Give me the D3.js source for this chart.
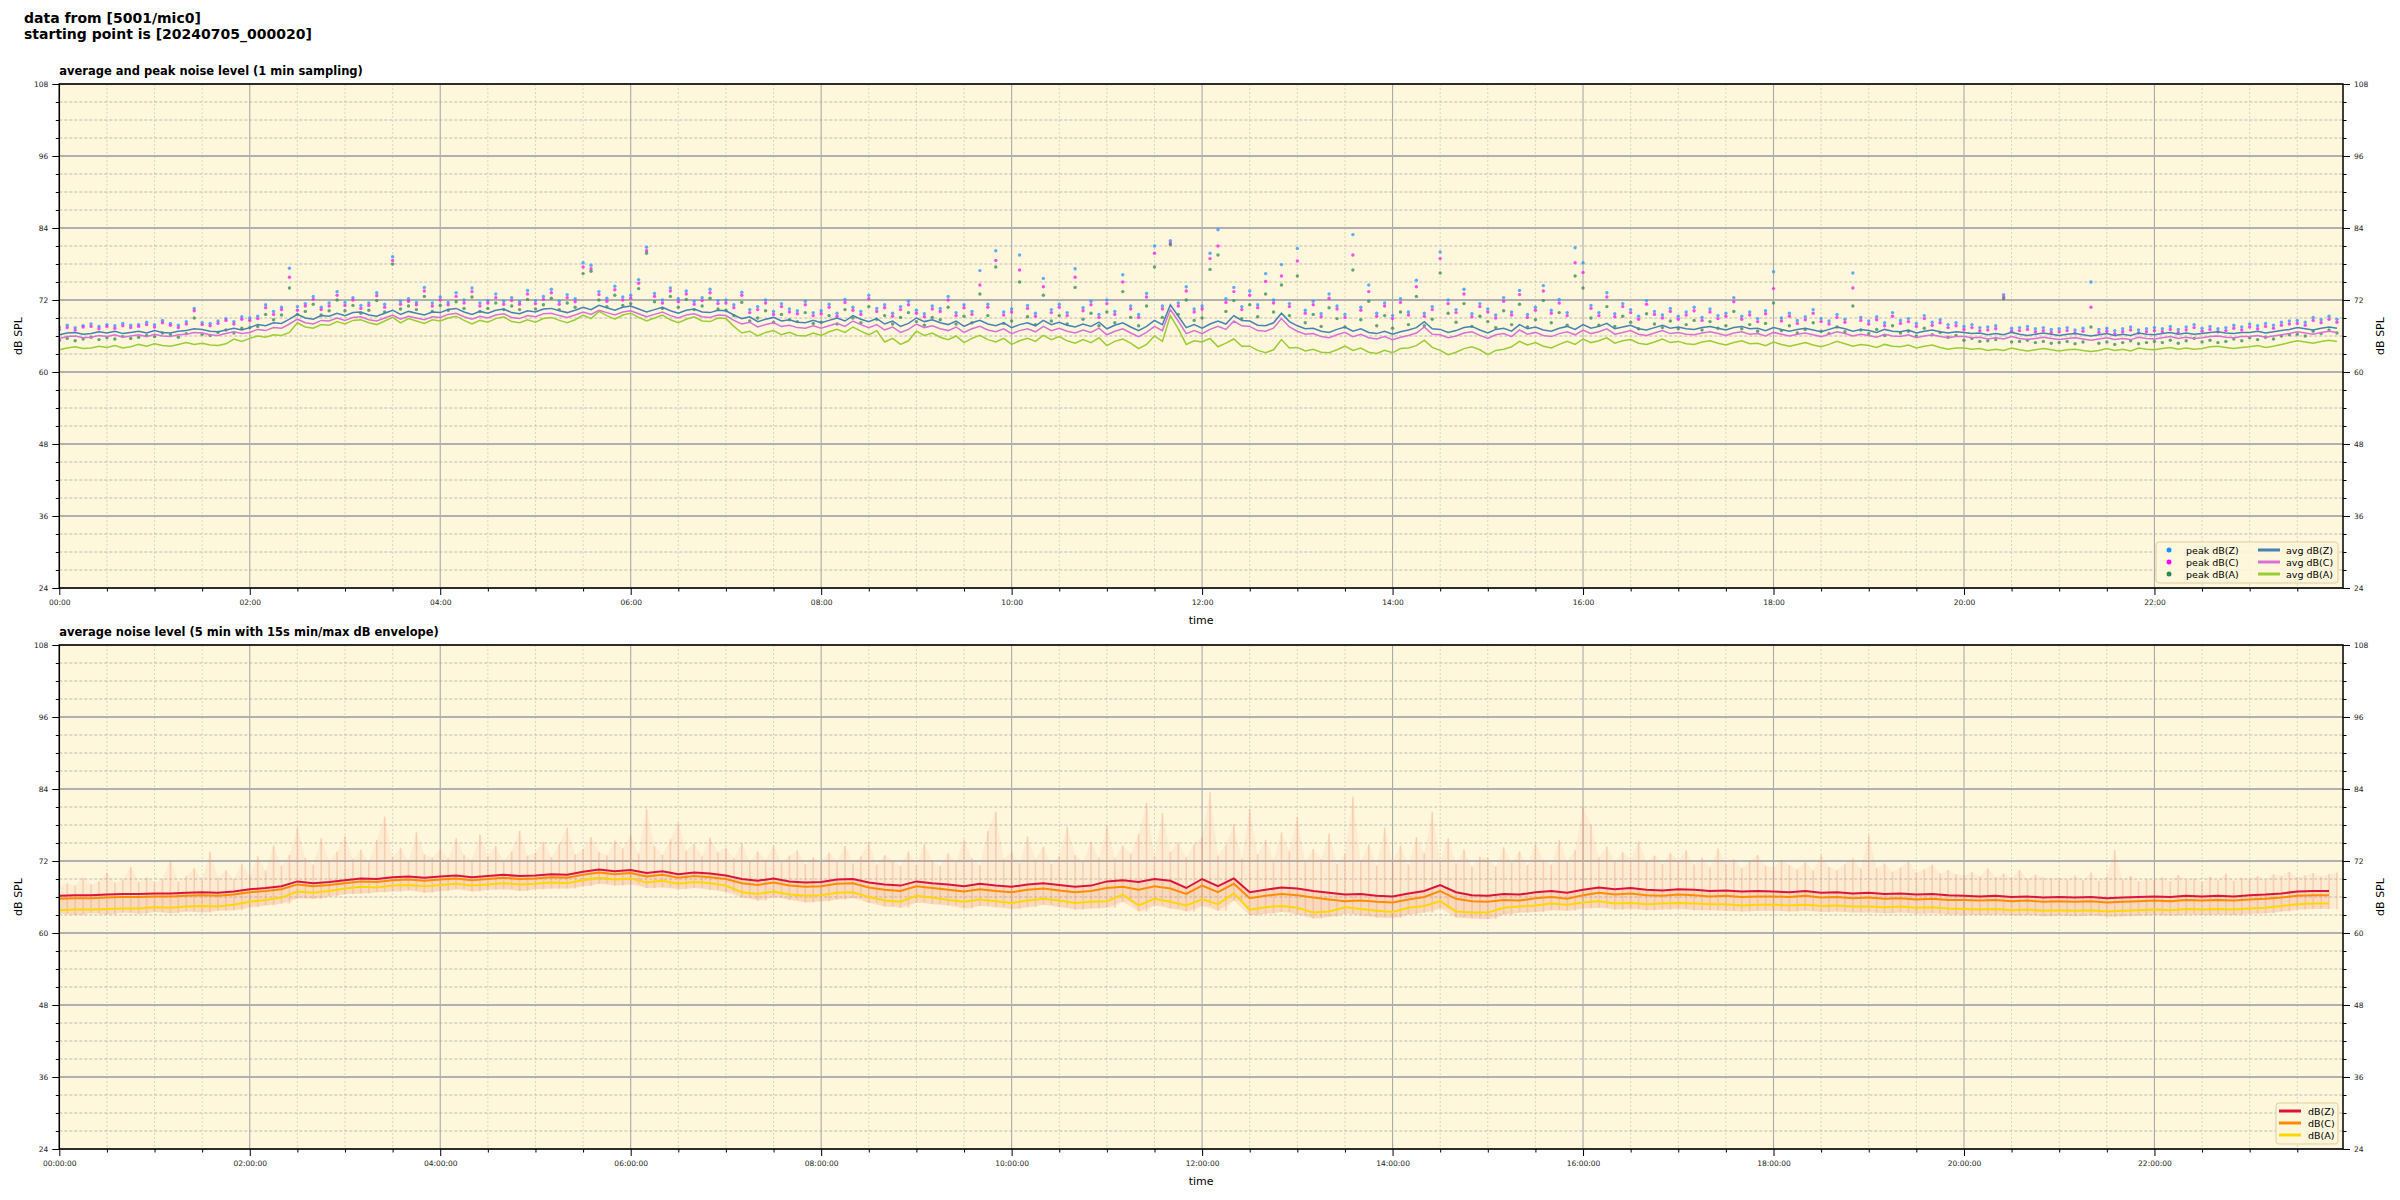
<!DOCTYPE html>
<html><head><meta charset="utf-8">
<script src="https://cdn.jsdelivr.net/npm/d3@7"></script>
<style>body{margin:0;background:#fff;} svg{display:block;font-family:"DejaVu Sans",sans-serif;}</style>
</head><body><svg id="c" width="2400" height="1200"></svg>
<script>
// ---------- data ----------
const hourTicks = [0,2,4,6,8,10,12,14,16,18,20,22];
const minorHourTicks = d3.range(0, 24, 0.5);
const yTicks = [24,36,48,60,72,84,96,108];
const yMinorTicks = d3.range(24, 109, 3);
const topTickLabels = hourTicks.map(h => String(h).padStart(2,"0") + ":00");
const bottomTickLabels = hourTicks.map(h => String(h).padStart(2,"0") + ":00:00");

// top chart: average levels, one value per 5 minutes (288 points)
const avgZ = [66.2,66.5,66.6,66.3,66.4,66.7,66.5,66.8,66.4,66.6,66.8,66.5,
 66.9,66.6,66.5,66.8,66.9,67.2,67.1,66.8,66.7,67.0,67.3,67.0,
 67.4,67.9,67.7,68.2,68.1,68.8,69.6,69.0,68.8,69.4,69.3,69.8,
 69.4,69.9,70.0,69.5,69.3,69.8,70.3,69.6,70.1,69.8,69.5,70.0,
 69.9,70.4,70.6,70.0,69.6,70.1,69.8,70.3,70.5,69.9,69.7,70.2,
 70.0,70.5,70.6,70.2,69.9,70.3,70.8,70.4,71.1,70.7,70.3,70.8,
 71.0,70.5,70.0,70.4,70.8,70.2,69.8,70.3,70.5,70.0,69.9,70.3,
 70.2,69.5,68.9,69.2,68.4,68.8,69.1,68.5,68.7,68.3,68.2,68.6,
 68.2,68.6,69.0,68.5,69.4,68.8,68.4,68.9,68.0,68.5,67.6,68.1,
 69.0,68.4,68.7,68.2,67.9,68.5,67.6,68.2,68.6,68.0,67.7,68.2,
 67.4,67.9,68.2,67.7,68.6,67.9,68.3,67.8,67.5,68.0,67.6,68.3,
 67.2,67.8,68.2,67.5,66.9,67.6,68.6,67.9,71.2,69.3,67.4,67.9,
 67.3,68.0,68.5,68.0,69.4,68.6,68.5,67.8,67.7,68.2,69.8,68.4,
 67.7,67.2,67.3,66.8,66.6,67.1,67.5,66.8,67.2,66.6,66.4,66.8,
 66.3,66.7,67.0,67.4,68.4,67.2,67.1,66.6,66.9,67.4,67.6,67.0,
 66.5,67.1,67.3,66.8,67.9,67.2,67.5,67.0,66.8,67.3,67.6,67.1,
 67.9,67.3,67.6,68.1,67.2,67.5,67.8,67.2,67.0,67.4,67.8,67.3,
 67.5,67.2,67.1,67.4,67.6,67.3,67.0,67.4,67.6,67.2,67.3,66.9,
 67.4,67.1,66.8,67.1,67.3,67.0,66.7,67.1,67.5,67.2,66.8,67.1,
 66.9,66.6,67.1,66.8,66.7,67.0,66.5,66.8,67.0,66.7,66.5,66.7,
 66.6,66.4,66.5,66.2,66.4,66.2,66.6,66.3,66.1,66.3,66.5,66.3,
 66.1,66.3,66.4,66.2,66.0,66.2,66.4,66.1,66.3,66.1,66.5,66.3,
 66.2,66.4,66.6,66.3,66.5,66.3,66.4,66.6,66.7,66.5,66.4,66.6,
 66.6,66.8,66.5,66.7,66.9,67.1,67.4,67.2,67.0,67.3,67.5,67.3];
const avgC = [65.6,65.9,66.0,65.7,65.8,66.1,65.9,66.2,65.8,66.0,66.2,65.9,
 66.3,66.0,65.9,66.2,66.3,66.6,66.5,66.2,66.1,66.4,66.7,66.4,
 66.6,67.1,66.9,67.4,67.3,68.0,68.8,68.2,68.0,68.6,68.5,69.0,
 68.6,69.1,69.2,68.7,68.5,69.0,69.5,68.8,69.3,69.0,68.7,69.2,
 69.1,69.6,69.8,69.2,68.8,69.3,69.0,69.5,69.7,69.1,68.9,69.4,
 69.2,69.7,69.8,69.4,69.1,69.5,70.0,69.6,70.3,69.9,69.5,70.0,
 70.2,69.7,69.2,69.6,70.0,69.4,69.0,69.5,69.7,69.2,69.1,69.5,
 69.4,68.6,68.0,68.3,67.5,67.9,68.2,67.6,67.8,67.4,67.3,67.7,
 67.3,67.7,68.1,67.6,68.5,67.9,67.4,67.9,67.0,67.5,66.6,67.1,
 68.0,67.4,67.7,67.2,66.9,67.5,66.6,67.2,67.6,67.0,66.7,67.2,
 66.4,66.9,67.2,66.7,67.6,66.9,67.3,66.8,66.5,67.0,66.6,67.3,
 66.2,66.8,67.2,66.5,65.9,66.6,67.6,66.9,70.4,68.5,66.4,66.9,
 66.4,67.1,67.6,67.1,68.5,67.7,67.6,66.9,66.8,67.3,68.9,67.5,
 66.8,66.3,66.4,65.9,65.7,66.2,66.6,65.9,66.3,65.7,65.5,65.9,
 65.4,65.8,66.1,66.5,67.5,66.3,66.2,65.7,66.0,66.5,66.7,66.1,
 65.6,66.2,66.4,65.9,67.0,66.3,66.6,66.1,65.9,66.4,66.7,66.2,
 67.0,66.4,66.7,67.2,66.3,66.6,66.9,66.3,66.1,66.5,66.9,66.4,
 66.6,66.3,66.2,66.5,66.7,66.4,66.1,66.5,66.7,66.3,66.4,66.0,
 66.6,66.3,66.0,66.3,66.5,66.2,65.9,66.3,66.7,66.4,66.0,66.3,
 66.1,65.8,66.3,66.0,65.9,66.2,65.7,66.0,66.2,65.9,65.7,65.9,
 65.9,65.7,65.8,65.5,65.7,65.5,65.9,65.6,65.4,65.6,65.8,65.6,
 65.4,65.6,65.7,65.5,65.3,65.5,65.7,65.4,65.6,65.4,65.8,65.6,
 65.5,65.7,65.9,65.6,65.8,65.6,65.7,65.9,66.0,65.8,65.7,65.9,
 65.9,66.1,65.8,66.0,66.2,66.4,66.7,66.5,66.3,66.6,66.8,66.6];
const avgA = [63.7,64.0,64.2,63.9,64.0,64.3,64.1,64.4,64.0,64.2,64.6,64.3,
 64.7,64.4,64.3,64.6,64.9,64.6,64.8,64.5,64.4,64.7,65.5,65.1,
 65.6,66.0,65.8,66.2,66.1,66.6,68.2,67.5,67.3,67.9,67.8,68.4,
 68.0,68.6,68.7,68.2,67.9,68.5,69.1,68.2,68.9,68.5,68.1,68.7,
 68.5,69.0,69.3,68.6,68.0,68.6,68.3,68.9,69.2,68.4,68.2,68.7,
 68.3,68.9,69.1,68.6,68.2,68.7,69.5,68.9,70.1,69.4,68.8,69.5,
 69.8,69.1,68.5,69.0,69.5,68.7,68.2,68.8,69.2,68.5,68.4,69.0,
 68.9,67.6,66.5,66.8,66.0,66.6,66.9,66.2,66.6,66.1,66.0,66.5,
 66.1,66.7,67.1,66.6,67.5,66.8,66.2,66.9,65.0,65.6,64.6,65.2,
 66.8,66.1,66.5,65.8,65.4,66.0,64.9,65.6,66.1,65.4,65.0,65.6,
 64.6,65.2,65.6,65.1,66.1,65.4,65.9,65.2,64.8,65.4,64.9,65.7,
 64.4,65.1,65.5,64.8,63.9,64.6,66.0,65.1,69.4,67.2,64.6,65.2,
 65.0,65.6,64.2,64.8,65.5,64.3,64.3,63.6,63.2,63.7,65.4,64.0,
 64.1,63.5,63.8,63.3,63.2,63.7,64.3,63.6,64.0,63.3,63.1,63.6,
 63.2,63.9,64.0,64.4,65.3,64.1,63.6,62.9,63.3,63.9,64.2,63.7,
 62.9,63.6,63.8,64.2,65.1,64.5,64.9,64.3,64.0,64.6,65.1,64.6,
 65.5,64.9,65.2,65.7,64.8,65.2,65.4,64.8,64.6,65.0,65.5,64.9,
 65.1,64.7,64.6,65.0,65.2,64.8,64.5,64.9,65.2,64.7,64.8,64.4,
 65.0,64.6,64.3,64.6,64.9,64.5,64.2,64.6,65.1,64.7,64.3,64.6,
 64.4,64.1,64.6,64.3,64.2,64.5,64.0,64.3,64.5,64.1,63.8,64.0,
 64.0,63.8,63.9,63.6,63.8,63.6,64.0,63.7,63.5,63.7,63.9,63.7,
 63.5,63.7,63.8,63.6,63.4,63.6,63.9,63.6,63.8,63.5,64.0,63.8,
 63.7,63.9,64.1,63.8,64.0,63.8,63.9,64.2,64.3,64.1,63.9,64.1,
 64.2,64.4,64.1,64.3,64.6,64.9,65.2,65.0,64.8,65.1,65.3,65.1];

// top chart: peak levels, one value per 5 minutes (288 points)
const peakZ = [67.5,67.8,67.4,67.7,68.0,67.6,67.9,67.7,68.1,67.8,67.9,68.3,
 67.9,68.6,68.1,67.8,68.4,70.6,68.2,68.1,68.5,68.9,68.4,69.2,
 69.0,69.3,71.2,70.1,70.8,77.3,70.9,71.4,72.6,70.8,71.5,73.4,
 71.6,72.4,71.1,71.5,73.2,71.3,79.2,71.8,72.2,71.6,74.1,71.5,
 72.5,71.6,73.2,72.0,74.0,71.5,71.9,73.0,71.8,72.4,71.7,73.6,
 71.9,72.6,73.8,71.8,72.9,72.2,78.2,77.8,73.4,72.3,74.3,72.5,
 72.8,75.4,80.8,73.1,72.0,74.0,72.2,73.5,71.8,72.4,73.8,71.9,
 72.0,71.2,73.3,70.4,70.9,72.0,70.1,71.4,70.5,70.2,71.8,69.9,
 70.2,71.3,69.8,72.1,70.8,70.1,72.8,70.6,71.2,69.8,70.9,71.8,
 70.3,69.7,71.0,70.6,72.6,69.9,71.2,70.1,76.9,71.3,80.2,70.0,
 70.5,79.5,71.1,69.8,75.6,70.4,71.3,69.9,77.2,70.7,71.8,69.6,
 72.0,70.1,76.2,71.0,69.6,73.1,81.0,71.0,81.9,71.5,74.2,70.5,
 71.0,79.8,83.7,72.2,74.1,70.9,73.5,71.2,76.4,72.0,77.9,71.4,
 80.6,70.3,71.8,69.7,73.0,71.0,69.6,82.9,70.8,74.5,69.8,71.5,
 69.4,72.2,70.0,75.3,69.8,70.9,80.0,72.0,70.4,73.8,69.7,71.4,
 70.5,69.5,72.4,70.0,73.6,69.6,70.8,74.4,70.3,72.1,69.9,80.7,
 78.2,71.1,69.9,73.2,69.7,71.4,70.4,69.3,71.9,70.1,69.5,70.6,
 69.3,70.0,70.8,69.1,70.5,69.4,69.8,72.4,69.3,70.0,68.9,70.2,
 76.7,69.0,69.8,68.6,69.2,70.4,68.9,68.5,69.6,68.8,76.5,69.1,
 68.5,69.2,68.2,69.9,68.6,68.9,68.1,69.4,68.3,68.7,67.9,68.2,
 67.6,67.9,67.4,67.5,67.7,72.9,67.3,67.4,67.6,67.2,67.4,67.1,
 67.2,67.4,67.0,67.3,75.0,67.1,67.3,66.9,67.2,67.5,67.0,67.2,
 67.4,67.2,67.6,67.1,67.5,67.9,67.3,67.6,67.2,67.4,67.8,67.5,
 68.0,67.7,68.1,67.8,68.3,68.5,68.6,68.3,69.1,68.7,69.3,68.8];
const peakC = [67.1,67.4,67.0,67.5,67.6,67.2,67.6,67.3,67.7,67.4,67.6,67.9,
 67.5,68.2,67.8,67.4,68.0,70.2,67.9,67.7,68.1,68.6,68.0,68.8,
 68.6,68.9,70.7,69.6,70.4,75.8,70.3,71.0,72.1,70.4,71.0,72.8,
 71.1,72.0,70.6,71.1,72.7,70.8,78.6,71.3,71.8,71.2,73.5,71.0,
 72.0,71.2,72.6,71.5,73.4,71.0,71.5,72.4,71.3,71.9,71.3,73.0,
 71.4,72.1,73.2,71.3,72.4,71.7,77.5,77.2,72.9,71.8,73.7,72.0,
 72.3,74.8,80.2,72.6,71.5,73.5,71.7,73.0,71.3,71.9,73.2,71.4,
 71.5,70.7,72.8,69.9,70.4,71.5,69.6,70.9,70.0,69.7,71.2,69.4,
 69.7,70.8,69.3,71.6,70.3,69.6,72.2,70.1,70.7,69.3,70.4,71.2,
 69.8,69.2,70.5,70.1,72.0,69.4,70.7,69.6,74.5,70.8,78.6,69.5,
 70.0,77.0,70.6,69.3,74.2,69.9,70.8,69.4,75.8,70.2,71.2,69.1,
 71.4,69.6,75.0,70.5,69.1,72.5,79.8,70.5,81.5,71.0,73.5,70.0,
 70.5,78.9,81.0,71.6,73.4,70.4,72.8,70.7,75.1,71.5,76.0,70.9,
 78.5,69.8,71.2,69.2,72.3,70.5,69.1,79.5,70.3,73.4,69.3,71.0,
 68.9,71.6,69.5,74.2,69.3,70.4,78.9,71.4,69.9,73.0,69.2,70.9,
 70.0,69.0,71.8,69.5,72.9,69.1,70.3,73.5,69.8,71.5,69.4,78.2,
 76.6,70.6,69.4,72.5,69.2,70.9,69.9,68.8,71.3,69.6,69.0,70.1,
 68.8,69.5,70.2,68.6,70.0,68.9,69.3,71.7,68.8,69.5,68.4,69.7,
 73.9,68.5,69.3,68.1,68.7,69.8,68.4,68.0,69.1,68.3,74.0,68.6,
 68.0,68.7,67.7,69.3,68.1,68.4,67.6,68.9,67.8,68.2,67.4,67.7,
 67.1,67.4,66.9,67.0,67.2,72.5,66.8,66.9,67.1,66.7,66.9,66.6,
 66.7,66.9,66.5,66.8,70.8,66.6,66.8,66.4,66.7,67.0,66.5,66.7,
 66.9,66.7,67.1,66.6,67.0,67.4,66.8,67.1,66.7,66.9,67.3,67.0,
 67.5,67.2,67.6,67.3,67.8,68.0,68.1,67.8,68.6,68.2,68.8,68.3];
const peakA = [65.3,65.6,65.2,65.5,65.8,65.4,65.7,65.5,65.9,65.6,65.8,66.1,
 65.9,66.5,66.2,65.8,66.4,69.0,66.3,66.1,66.6,67.0,66.5,67.3,
 67.4,67.6,69.6,68.7,69.5,74.0,69.6,70.1,71.3,69.5,70.2,72.0,
 70.2,71.1,69.8,70.3,71.9,70.0,78.0,70.5,71.0,70.4,72.6,70.1,
 71.1,70.3,71.7,70.6,72.5,70.1,70.6,71.5,70.4,71.0,70.4,72.1,
 70.5,71.2,72.3,70.4,71.5,70.8,76.4,76.8,72.0,70.9,72.8,71.1,
 71.4,73.9,79.8,71.7,70.6,72.6,70.8,72.1,70.4,71.0,72.3,70.5,
 70.3,69.4,71.6,68.5,69.0,70.2,68.3,69.6,68.7,68.4,69.9,68.1,
 68.3,69.4,68.0,70.4,69.0,68.2,70.9,68.8,69.4,68.0,69.1,69.9,
 68.4,67.8,69.1,68.7,70.8,68.0,69.3,68.2,73.0,69.4,77.5,68.1,
 68.5,75.0,69.2,67.9,72.8,68.5,69.4,68.0,74.1,68.8,69.8,67.7,
 70.0,68.2,73.4,69.1,67.7,71.0,77.5,69.1,81.2,69.6,72.0,68.6,
 69.0,77.1,79.5,70.1,71.9,68.9,71.2,69.2,73.0,70.0,74.5,69.4,
 76.0,68.2,69.6,67.6,70.7,68.9,67.5,77.0,68.7,71.8,67.7,69.4,
 67.3,70.0,67.9,72.6,67.7,68.8,76.5,69.8,68.3,71.4,67.6,69.3,
 68.4,67.4,70.2,67.9,71.3,67.5,68.7,71.9,68.2,69.9,67.8,76.0,
 74.0,69.0,67.8,70.9,67.6,69.3,68.3,67.2,69.7,68.0,67.4,68.5,
 67.2,67.9,68.6,67.0,68.4,67.3,67.7,70.1,67.2,67.9,66.8,68.1,
 71.5,66.9,67.7,66.5,67.1,68.2,66.8,66.4,67.5,66.7,71.0,67.0,
 66.4,67.1,66.1,67.7,66.5,66.8,66.0,67.3,66.2,66.6,65.8,66.1,
 65.3,65.6,65.1,65.2,65.4,72.2,65.0,65.1,65.3,64.9,65.1,64.8,
 64.9,65.1,64.7,65.0,67.5,64.8,65.0,64.6,64.9,65.2,64.7,64.9,
 65.1,64.9,65.3,64.8,65.2,65.6,65.0,65.3,64.9,65.1,65.5,65.2,
 65.7,65.4,65.8,65.5,66.0,66.2,66.3,66.0,66.8,66.4,67.0,66.5];

// bottom chart: 5-min averages sampled every 10 minutes (144 points)
const avg5Z = [66.2,66.3,66.3,66.4,66.5,66.5, 66.6,66.6,66.7,66.8,66.7,66.9, 67.3,67.5,67.8,68.6,68.3,68.5, 68.8,69.1,69.0,69.3,69.4,69.2,
 69.4,69.6,69.3,69.5,69.7,69.5, 69.6,69.8,69.7,70.2,70.6,70.3, 70.5,70.0,70.3,69.8,70.1,69.9, 69.6,69.0,68.7,69.1,68.6,68.4,
 68.5,68.9,69.0,68.4,68.1,67.9, 68.6,68.3,68.1,67.8,68.2,67.9, 67.7,68.1,68.3,68.0,67.7,67.9, 68.6,68.8,68.5,69.0,68.7,67.5,
 69.0,67.8,69.1,66.8,67.2,67.6, 67.4,67.0,66.7,66.4,66.5,66.2, 66.1,66.6,67.0,68.0,66.8,66.3, 66.2,66.5,66.4,66.8,67.0,66.7,
 67.2,67.6,67.3,67.5,67.2,67.1, 67.3,67.2,67.0,67.1,66.9,67.0, 66.9,66.8,67.0,66.7,66.8,66.6, 66.7,66.5,66.6,66.4,66.5,66.3,
 66.2,66.1,66.2,66.0,66.1,65.9, 66.0,65.9,66.0,65.8,65.9,66.0, 66.1,66.0,66.2,66.1,66.2,66.1, 66.3,66.4,66.6,66.9,67.0,67.0];
const avg5C = [65.7,65.8,65.8,65.9,66.0,66.0, 66.1,66.1,66.2,66.3,66.2,66.4, 66.8,67.0,67.3,68.1,67.8,68.0, 68.3,68.6,68.5,68.8,68.9,68.7,
 68.9,69.1,68.8,69.0,69.2,69.0, 69.1,69.3,69.2,69.7,70.1,69.8, 70.0,69.4,69.7,69.2,69.5,69.3, 69.0,68.3,68.0,68.4,67.9,67.7,
 67.8,68.2,68.3,67.6,67.2,67.0, 67.8,67.5,67.2,66.9,67.3,67.0, 66.8,67.2,67.4,67.1,66.8,67.0, 67.5,67.7,67.2,67.8,67.4,66.5,
 67.9,66.8,68.2,65.8,66.2,66.5, 66.3,65.9,65.6,65.3,65.4,65.2, 65.1,65.6,66.0,67.0,65.7,65.3, 65.2,65.5,65.4,65.8,66.0,65.7,
 66.3,66.7,66.4,66.6,66.3,66.2, 66.4,66.3,66.1,66.2,66.0,66.1, 66.1,66.0,66.2,65.9,66.0,65.8, 65.9,65.7,65.8,65.6,65.7,65.5,
 65.5,65.4,65.5,65.3,65.4,65.2, 65.3,65.2,65.3,65.1,65.2,65.3, 65.4,65.3,65.5,65.4,65.5,65.4, 65.6,65.7,65.9,66.2,66.3,66.3];
const avg5A = [63.8,63.9,63.9,64.0,64.1,64.1, 64.3,64.2,64.4,64.5,64.4,64.7, 65.2,65.5,65.9,66.9,66.7,67.0, 67.4,67.7,67.6,67.9,68.0,67.8,
 68.0,68.2,67.9,68.1,68.3,68.1, 68.2,68.4,68.3,68.8,69.2,68.9, 69.1,68.4,68.7,68.2,68.5,68.3, 67.9,66.8,66.5,66.9,66.4,66.2,
 66.3,66.7,66.8,66.0,65.4,65.2, 66.2,65.9,65.5,65.2,65.6,65.3, 65.0,65.4,65.7,65.4,65.0,65.2, 65.3,66.4,64.6,65.7,65.2,64.6,
 65.6,64.8,66.6,63.9,64.3,64.5, 64.2,63.4,63.6,64.3,64.0,63.7, 63.5,64.2,64.5,65.3,63.6,63.4, 63.4,64.2,64.4,64.6,64.9,64.7,
 65.1,65.3,64.9,65.0,64.8,64.9, 65.0,64.9,64.8,64.8,64.6,64.7, 64.7,64.6,64.7,64.5,64.6,64.4, 64.4,64.3,64.4,64.2,64.3,64.1,
 64.0,63.9,64.0,63.8,63.9,63.7, 63.8,63.7,63.8,63.6,63.7,63.8, 63.9,63.8,64.0,63.9,64.0,63.9, 64.1,64.2,64.5,64.8,64.9,64.9];
// 15 s min/max envelope: max per 5 min (288), min per 10 min (144)
const envMax = [67.8,68.3,67.9,69.2,68.1,68.6,70.1,68.4,68.9,71.0,68.5,69.3,
 68.4,69.0,72.2,68.6,69.5,70.8,68.9,73.5,69.2,70.4,69.0,71.6,
 69.5,72.8,70.3,74.6,71.2,73.0,77.6,72.5,71.4,75.8,72.0,73.6,
 76.2,72.3,73.9,71.8,75.5,79.4,72.7,74.2,72.0,76.8,73.1,72.6,
 74.0,72.4,75.8,73.0,72.2,76.4,72.8,74.5,72.1,73.6,77.0,72.9,
 73.4,75.2,72.6,74.8,77.6,73.1,74.0,76.0,73.5,72.9,75.4,74.1,
 76.3,73.2,80.7,74.5,73.0,75.6,78.4,73.7,74.9,72.8,75.9,73.4,
 74.2,72.5,75.0,71.9,73.6,72.2,74.6,71.8,72.9,73.8,71.5,72.6,
 71.8,73.4,72.0,74.5,71.6,72.8,75.2,71.4,73.0,72.1,71.2,73.6,
 71.4,74.8,72.0,71.2,73.3,71.8,75.6,72.4,71.3,77.0,80.2,72.3,
 73.5,71.6,76.1,72.2,74.4,71.5,72.8,77.8,73.0,71.9,75.2,72.5,
 77.9,72.4,74.6,73.2,76.5,81.7,72.8,80.0,73.5,75.1,72.6,74.8,
 76.0,83.5,72.9,74.7,78.2,72.4,80.7,73.1,75.5,72.2,76.8,73.6,
 79.4,71.8,74.0,72.3,76.6,71.5,73.2,82.7,71.9,74.8,71.2,77.6,
 72.0,74.6,71.4,76.0,73.3,80.2,72.1,75.8,71.6,73.9,71.0,72.7,
 72.5,71.1,74.3,71.7,73.6,71.3,74.9,72.2,71.4,75.5,72.0,73.8,
 81.0,78.0,72.6,74.4,71.9,73.5,72.2,75.3,71.8,72.9,71.5,73.4,
 72.0,73.8,71.4,72.6,70.9,74.1,71.6,72.3,70.8,71.9,73.0,71.2,
 70.9,72.2,71.3,70.6,71.8,70.4,73.0,71.0,70.5,71.5,72.4,70.7,
 76.3,70.8,71.6,70.2,70.9,72.0,70.1,70.6,71.4,69.9,70.5,69.8,
 69.6,70.2,69.4,70.8,69.3,69.9,69.2,70.5,69.0,69.7,69.3,69.1,
 69.2,68.9,69.6,68.8,70.1,68.7,69.4,73.8,68.9,69.5,68.6,69.0,
 68.8,69.3,68.6,69.7,68.9,69.1,68.5,69.4,68.8,69.9,68.7,69.2,
 69.0,69.5,68.9,69.8,69.5,70.2,69.3,69.6,70.0,69.4,69.8,70.1];
const envMin = [63.2,63.0,63.3,63.1,63.4,63.2, 63.5,63.3,63.6,63.4,63.7,63.8, 64.3,64.6,64.9,65.8,65.7,66.1, 66.5,66.6,66.8,66.9,67.1,66.7,
 67.0,67.3,66.9,67.2,67.3,67.0, 67.3,67.4,67.4,67.8,68.2,67.9, 68.1,67.5,67.6,67.3,67.5,67.2, 66.8,65.9,65.4,66.0,65.5,65.1,
 65.3,65.6,65.8,65.0,64.4,64.2, 65.1,64.8,64.6,64.1,64.5,64.3, 64.0,64.3,64.7,64.3,63.9,64.1, 64.2,65.2,63.6,64.6,64.1,63.6,
 64.5,63.7,65.4,62.9,63.2,63.5, 63.1,62.4,62.7,63.2,62.9,62.6, 62.5,63.1,63.4,64.1,62.6,62.4, 62.3,63.1,63.4,63.5,63.8,63.7,
 64.1,64.2,63.9,64.0,63.8,63.9, 64.0,63.8,63.8,63.7,63.6,63.7, 63.7,63.6,63.7,63.5,63.6,63.4, 63.4,63.3,63.4,63.2,63.3,63.1,
 63.1,63.0,63.1,62.9,63.0,62.8, 62.9,62.8,62.9,62.7,62.8,62.9, 63.0,62.9,63.1,63.0,63.1,63.0, 63.2,63.3,63.6,63.9,64.0,64.0];

const topLegend = [
  {label:"peak dB(Z)", kind:"dot", color:"#1e90ff"},
  {label:"peak dB(C)", kind:"dot", color:"#ff00ff"},
  {label:"peak dB(A)", kind:"dot", color:"#2e8b57"},
  {label:"avg dB(Z)", kind:"line", color:"#4682b4"},
  {label:"avg dB(C)", kind:"line", color:"#da70d6"},
  {label:"avg dB(A)", kind:"line", color:"#9acd32"}];
const bottomLegend = [
  {label:"dB(Z)", color:"#dc143c"},
  {label:"dB(C)", color:"#ff8c00"},
  {label:"dB(A)", color:"#ffd700"}];

// ---------- drawing ----------
const svg = d3.select("#c");
const FONT = "DejaVu Sans";
const xL = 59.3, xR = 2343;
const x = d3.scaleLinear().domain([0, 23.98]).range([xL, xR]);
const t5 = i => i / 12, t10 = i => i / 6;

svg.append("text").attr("x", 24).attr("y", 23).attr("font-family", FONT).attr("font-weight", "bold")
  .attr("font-size", 14).text("data from [5001/mic0]");
svg.append("text").attr("x", 24).attr("y", 39).attr("font-family", FONT).attr("font-weight", "bold")
  .attr("font-size", 14).text("starting point is [20240705_000020]");

function panel(top, bottom, title, labels, id) {
  const y = d3.scaleLinear().domain([24, 108]).range([bottom, top]);
  const g = svg.append("g");
  g.append("rect").attr("x", xL).attr("y", top).attr("width", xR - xL).attr("height", bottom - top).attr("fill", "#fff7dc");
  g.append("g").selectAll("line").data(minorHourTicks.filter(h => h % 2 !== 0)).join("line")
    .attr("x1", d => x(d)).attr("x2", d => x(d)).attr("y1", top).attr("y2", bottom)
    .attr("stroke", "#d2cbbb").attr("stroke-width", 0.8).attr("stroke-dasharray", "2,2");
  g.append("g").selectAll("line").data(yMinorTicks.filter(v => v % 12 !== 0)).join("line")
    .attr("x1", xL).attr("x2", xR).attr("y1", d => y(d)).attr("y2", d => y(d))
    .attr("stroke", "#bcb8b0").attr("stroke-width", 1).attr("stroke-dasharray", "3,2");
  g.append("g").selectAll("line").data(hourTicks).join("line")
    .attr("x1", d => x(d)).attr("x2", d => x(d)).attr("y1", top).attr("y2", bottom)
    .attr("stroke", "#a9a9a9").attr("stroke-width", 1.1);
  g.append("g").selectAll("line").data(yTicks).join("line")
    .attr("x1", xL).attr("x2", xR).attr("y1", d => y(d)).attr("y2", d => y(d))
    .attr("stroke", "#b0b0b0").attr("stroke-width", 1.8);
  svg.append("clipPath").attr("id", id).append("rect").attr("x", xL).attr("y", top).attr("width", xR - xL).attr("height", bottom - top);
  const data = svg.append("g").attr("clip-path", `url(#${id})`);
  const styleAxis = a => { a.select(".domain").remove(); a.selectAll("text").attr("font-family", FONT).attr("font-size", 7.5).attr("fill", "#222"); a.selectAll("line").attr("stroke", "#000"); };
  const ax = svg.append("g").attr("transform", `translate(0,${bottom})`)
    .call(d3.axisBottom(x).tickValues(hourTicks).tickFormat((d, i) => labels[i]).tickSize(7).tickPadding(5));
  styleAxis(ax);
  const axm = svg.append("g").attr("transform", `translate(0,${bottom})`)
    .call(d3.axisBottom(x).tickValues(minorHourTicks.filter(h => h % 2 !== 0)).tickFormat("").tickSize(3.5));
  styleAxis(axm);
  for (const [side, xp] of [["L", xL], ["R", xR]]) {
    const axf = side === "L" ? d3.axisLeft : d3.axisRight;
    const ay = svg.append("g").attr("transform", `translate(${xp},0)`).call(axf(y).tickValues(yTicks).tickFormat(d3.format("d")).tickSize(7).tickPadding(4));
    styleAxis(ay);
    const aym = svg.append("g").attr("transform", `translate(${xp},0)`).call(axf(y).tickValues(yMinorTicks.filter(v => v % 12 !== 0)).tickFormat("").tickSize(3.5));
    styleAxis(aym);
  }
  svg.append("rect").attr("x", xL).attr("y", top).attr("width", xR - xL).attr("height", bottom - top)
    .attr("fill", "none").attr("stroke", "#000").attr("stroke-width", 1.5);
  svg.append("text").attr("x", xL).attr("y", top - 9).attr("font-family", FONT).attr("font-weight", "bold").attr("font-size", 11.5).text(title);
  const mid = (top + bottom) / 2;
  svg.append("text").attr("transform", `translate(22,${mid}) rotate(-90)`).attr("text-anchor", "middle")
    .attr("font-family", FONT).attr("font-size", 11).text("dB SPL");
  svg.append("text").attr("transform", `translate(2384,${mid}) rotate(-90)`).attr("text-anchor", "middle")
    .attr("font-family", FONT).attr("font-size", 11).text("dB SPL");
  svg.append("text").attr("x", (xL + xR) / 2).attr("y", bottom + 36).attr("text-anchor", "middle")
    .attr("font-family", FONT).attr("font-size", 11).text("time");
  return {y, data};
}

// ---- top panel ----
const P1 = panel(84, 588, "average and peak noise level (1 min sampling)", topTickLabels, "clip1");
[[peakZ, "#3399ff"], [peakC, "#ff22ee"], [peakA, "#3d8f5a"]].forEach(([arr, col]) => {
  P1.data.append("g").selectAll("circle").data(arr).join("circle")
    .attr("cx", (d, i) => x(t5(i))).attr("cy", d => P1.y(d)).attr("r", 1.7)
    .attr("fill", col).attr("opacity", 0.8);
});
[[avgA, "#9acd32"], [avgC, "#da70d6"], [avgZ, "#4682b4"]].forEach(([arr, col]) => {
  P1.data.append("path").datum(arr).attr("fill", "none").attr("stroke", col).attr("stroke-width", 1.5)
    .attr("d", d3.line().x((d, i) => x(t5(i))).y(d => P1.y(d)));
});
{
  const lg = svg.append("g").attr("font-family", FONT).attr("font-size", 9.5);
  lg.append("rect").attr("x", 2156).attr("y", 542).attr("width", 182).attr("height", 41).attr("rx", 3)
    .attr("fill", "#fff7dc").attr("fill-opacity", 0.85).attr("stroke", "#e3cda0");
  topLegend.forEach((d, i) => {
    const col = Math.floor(i / 3), row = i % 3;
    const yy = 550 + row * 12;
    if (d.kind === "dot") {
      lg.append("circle").attr("cx", 2169).attr("cy", yy).attr("r", 2.5).attr("fill", d.color);
      lg.append("text").attr("x", 2186).attr("y", yy + 3.5).text(d.label);
    } else {
      lg.append("line").attr("x1", 2258).attr("x2", 2280).attr("y1", yy).attr("y2", yy).attr("stroke", d.color).attr("stroke-width", 3);
      lg.append("text").attr("x", 2286).attr("y", yy + 3.5).text(d.label);
    }
  });
}

// ---- bottom panel ----
const P2 = panel(645, 1149, "average noise level (5 min with 15s min/max dB envelope)", bottomTickLabels, "clip2");
const envCol = "#ee9775";
// dense band between envelope minimum and the dB(Z) average
P2.data.append("path").datum(envMin).attr("fill", envCol).attr("fill-opacity", 0.22)
  .attr("d", d3.area().x((d, i) => x(t10(i))).y0(d => P2.y(d)).y1((d, i) => P2.y(avg5Z[i] + 0)));
// faint envelope area to the maxima
P2.data.append("path").datum(envMax).attr("fill", envCol).attr("fill-opacity", 0.1)
  .attr("d", d3.area().x((d, i) => x(t5(i))).y1(d => P2.y(d)).y0((d, i) => P2.y(envMin[Math.min(envMin.length - 1, Math.floor(i / 2))])));
// spikes to each max
P2.data.append("g").selectAll("line").data(envMax).join("line")
  .attr("x1", (d, i) => x(t5(i))).attr("x2", (d, i) => x(t5(i)))
  .attr("y1", (d, i) => P2.y(envMin[Math.min(envMin.length - 1, Math.floor(i / 2))])).attr("y2", d => P2.y(d))
  .attr("stroke", envCol).attr("stroke-opacity", 0.35).attr("stroke-width", 1.6);
[[avg5A, "#ffd700"], [avg5C, "#ff8c00"], [avg5Z, "#dc143c"]].forEach(([arr, col]) => {
  P2.data.append("path").datum(arr).attr("fill", "none").attr("stroke", col).attr("stroke-width", 2)
    .attr("d", d3.line().x((d, i) => x(t10(i))).y(d => P2.y(d)));
});
{
  const lg = svg.append("g").attr("font-family", FONT).attr("font-size", 9.5);
  lg.append("rect").attr("x", 2276).attr("y", 1103).attr("width", 62).attr("height", 41).attr("rx", 3)
    .attr("fill", "#fff7dc").attr("fill-opacity", 0.85).attr("stroke", "#e3cda0");
  bottomLegend.forEach((d, i) => {
    const yy = 1111 + i * 12;
    lg.append("line").attr("x1", 2279).attr("x2", 2301).attr("y1", yy).attr("y2", yy).attr("stroke", d.color).attr("stroke-width", 3);
    lg.append("text").attr("x", 2308).attr("y", yy + 3.5).text(d.label);
  });
}
</script></body></html>
